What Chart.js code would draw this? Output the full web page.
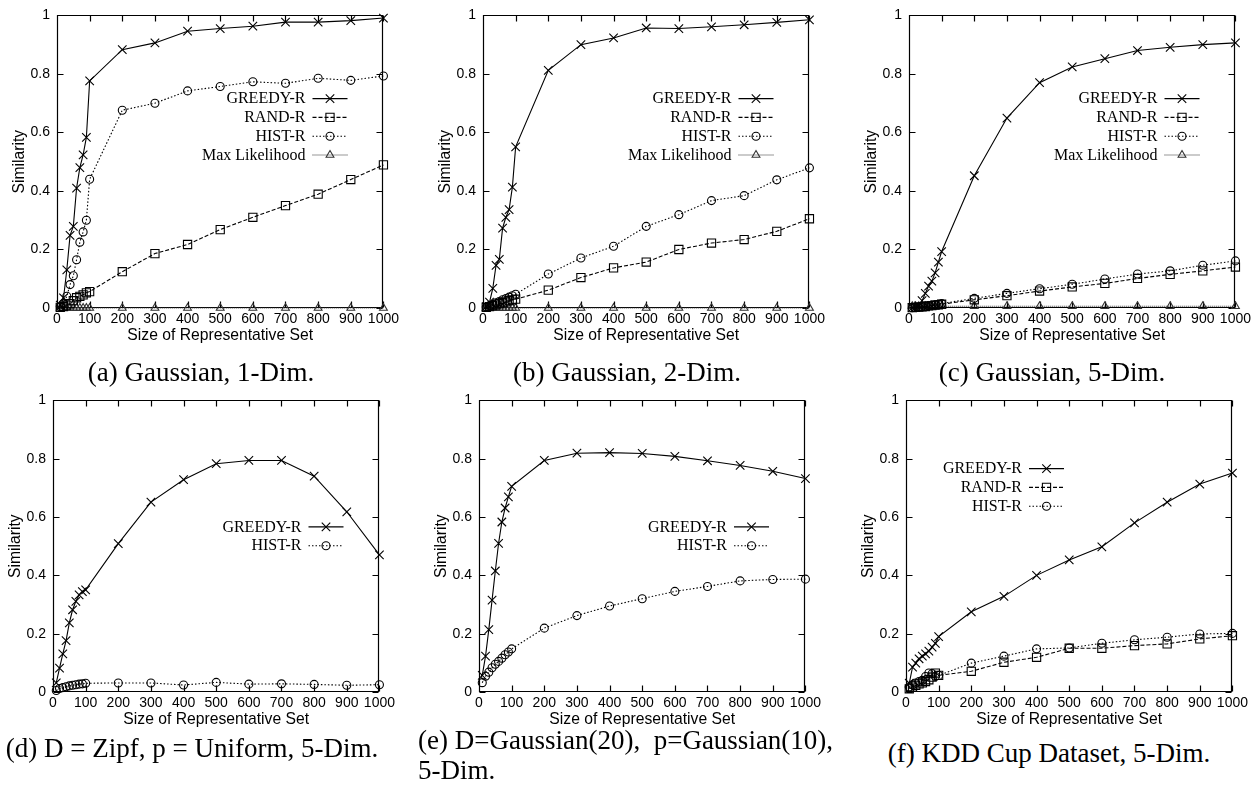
<!DOCTYPE html>
<html>
<head>
<meta charset="utf-8">
<script src="https://cdn.jsdelivr.net/npm/chart.js@4"></script>
<style>
  html, body { margin: 0; padding: 0; background: #fff; overflow: hidden; }
  body { width: 1255px; height: 787px; position: relative; }
  .box { position: absolute; }
  .cap { position: absolute; font-family: "Liberation Serif", serif; font-size: 27px; color: #000; white-space: nowrap; line-height: 30px; }
</style>
</head>
<body>
<div class="box" id="wa"><canvas id="ca" width="398" height="350"></canvas></div>
<div class="box" id="wb"><canvas id="cb" width="398" height="350"></canvas></div>
<div class="box" id="wc"><canvas id="cc" width="398" height="350"></canvas></div>
<div class="box" id="wd"><canvas id="cd" width="398" height="350"></canvas></div>
<div class="box" id="we"><canvas id="ce" width="398" height="350"></canvas></div>
<div class="box" id="wf"><canvas id="cf" width="398" height="350"></canvas></div>

<div class="cap" style="left:201px; top:357px; transform:translateX(-50%);">(a) Gaussian, 1-Dim.</div>
<div class="cap" style="left:627px; top:357px; transform:translateX(-50%);">(b) Gaussian, 2-Dim.</div>
<div class="cap" style="left:1052px; top:357px; transform:translateX(-50%);">(c) Gaussian, 5-Dim.</div>
<div class="cap" style="left:192px; top:733px; transform:translateX(-50%);">(d) D = Zipf, p = Uniform, 5-Dim.</div>
<div class="cap" style="left:418px; top:725px;">(e) D=Gaussian(20),&nbsp; p=Gaussian(10),<br>5-Dim.</div>
<div class="cap" style="left:1049px; top:738px; transform:translateX(-50%);">(f) KDD Cup Dataset, 5-Dim.</div>

<script>
// x positions (size of representative set)
const sizes = [10, 20, 30, 40, 50, 60, 70, 80, 90, 100, 200, 300, 400, 500, 600, 700, 800, 900, 1000];
const xTicks = [0, 100, 200, 300, 400, 500, 600, 700, 800, 900, 1000];
const yTicks = [0, 0.2, 0.4, 0.6, 0.8, 1];

// (a) Gaussian, 1-Dim.
const greedyA = [0.01, 0.035, 0.13, 0.248, 0.279, 0.41, 0.48, 0.523, 0.583, 0.776, 0.883, 0.906, 0.946, 0.955, 0.963, 0.977, 0.977, 0.982, 0.991];
const randA   = [0.002, 0.005, 0.01, 0.015, 0.025, 0.035, 0.04, 0.045, 0.052, 0.056, 0.124, 0.186, 0.217, 0.268, 0.31, 0.35, 0.389, 0.439, 0.489];
const histA   = [0.005, 0.015, 0.04, 0.08, 0.11, 0.165, 0.225, 0.26, 0.30, 0.44, 0.676, 0.70, 0.742, 0.757, 0.773, 0.768, 0.785, 0.778, 0.793];
const mlA     = [0, 0, 0, 0, 0, 0, 0, 0, 0, 0, 0, 0, 0, 0, 0, 0, 0, 0, 0];

// (b) Gaussian, 2-Dim.
const greedyB = [0.005, 0.02, 0.067, 0.146, 0.166, 0.273, 0.31, 0.336, 0.413, 0.551, 0.812, 0.90, 0.923, 0.957, 0.955, 0.961, 0.968, 0.976, 0.985];
const randB   = [0.002, 0.005, 0.008, 0.011, 0.015, 0.018, 0.021, 0.025, 0.028, 0.03, 0.061, 0.104, 0.137, 0.157, 0.2, 0.222, 0.234, 0.262, 0.305];
const histB   = [0.003, 0.008, 0.012, 0.018, 0.022, 0.028, 0.032, 0.037, 0.042, 0.047, 0.116, 0.171, 0.211, 0.279, 0.319, 0.367, 0.384, 0.438, 0.479];
const mlB     = [0, 0, 0, 0, 0, 0, 0, 0, 0, 0, 0, 0, 0, 0, 0, 0, 0, 0, 0];

// (c) Gaussian, 5-Dim.
const greedyC = [0.001, 0.002, 0.007, 0.025, 0.05, 0.075, 0.092, 0.12, 0.157, 0.193, 0.452, 0.649, 0.77, 0.824, 0.852, 0.88, 0.891, 0.90, 0.906];
const randC   = [0.001, 0.002, 0.003, 0.004, 0.005, 0.007, 0.008, 0.01, 0.011, 0.013, 0.028, 0.042, 0.058, 0.072, 0.084, 0.101, 0.115, 0.127, 0.14];
const histC   = [0.001, 0.002, 0.003, 0.005, 0.006, 0.008, 0.01, 0.011, 0.013, 0.015, 0.033, 0.05, 0.066, 0.081, 0.099, 0.116, 0.127, 0.146, 0.161];
const mlC     = [0.006, 0.006, 0.006, 0.006, 0.006, 0.006, 0.006, 0.006, 0.006, 0.006, 0.006, 0.006, 0.006, 0.006, 0.006, 0.006, 0.006, 0.006, 0.006];

// (d) D = Zipf, p = Uniform, 5-Dim.
const greedyD = [0.031, 0.082, 0.131, 0.176, 0.237, 0.282, 0.311, 0.333, 0.344, 0.35, 0.509, 0.651, 0.728, 0.783, 0.794, 0.794, 0.74, 0.618, 0.47];
const histD   = [0.005, 0.012, 0.015, 0.018, 0.021, 0.023, 0.025, 0.027, 0.028, 0.03, 0.031, 0.031, 0.024, 0.033, 0.027, 0.028, 0.026, 0.023, 0.025];

// (e) D=Gaussian(20), p=Gaussian(10), 5-Dim.
const greedyE = [0.057, 0.123, 0.214, 0.315, 0.415, 0.51, 0.583, 0.631, 0.669, 0.705, 0.794, 0.819, 0.821, 0.818, 0.808, 0.793, 0.777, 0.757, 0.732];
const histE   = [0.032, 0.054, 0.068, 0.083, 0.095, 0.105, 0.116, 0.128, 0.137, 0.148, 0.219, 0.262, 0.295, 0.32, 0.345, 0.362, 0.381, 0.386, 0.387];

// (f) KDD Cup Dataset, 5-Dim.
const greedyF = [0.03, 0.085, 0.099, 0.114, 0.123, 0.131, 0.14, 0.154, 0.167, 0.19, 0.275, 0.328, 0.40, 0.453, 0.498, 0.58, 0.651, 0.713, 0.751];
const randF   = [0.011, 0.017, 0.023, 0.028, 0.031, 0.036, 0.042, 0.051, 0.065, 0.057, 0.071, 0.102, 0.119, 0.15, 0.15, 0.159, 0.165, 0.182, 0.193];
const histF   = [0.017, 0.025, 0.031, 0.036, 0.04, 0.053, 0.065, 0.063, 0.053, 0.057, 0.099, 0.123, 0.148, 0.151, 0.167, 0.179, 0.188, 0.199, 0.201];

Chart.defaults.font.family = '"Liberation Sans", Arial, sans-serif';
Chart.defaults.color = '#000';

// line / marker look, gnuplot style
const styles = {
  'GREEDY-R':       { borderColor: '#000', borderDash: [], pointStyle: 'crossRot', pointRadius: 6 },
  'RAND-R':         { borderColor: '#000', borderDash: [4, 2], pointStyle: 'rect', pointRadius: 5.8 },
  'HIST-R':         { borderColor: '#000', borderDash: [1.5, 2], pointStyle: 'circle', pointRadius: 4 },
  'Max Likelihood': { borderColor: '#333', borderDash: [1, 1], pointStyle: 'triangle', pointRadius: 4.5 }
};

const series = (label, vals) => Object.assign({
  label: label,
  data: sizes.map((s, i) => ({ x: s, y: vals[i] })),
  borderWidth: 1.1,
  pointBorderWidth: 1.1,
  pointBorderColor: styles[label].borderColor,
  pointBackgroundColor: 'rgba(0,0,0,0)',
  pointHoverRadius: 5,
  tension: 0,
  fill: false,
  clip: false
}, styles[label]);

// box + inward ticks on all four sides
const frame = {
  id: 'frame',
  beforeDatasetsDraw(chart) {
    const { ctx, chartArea: a, scales } = chart;
    const L = Math.round(a.left) + 0.5, R = Math.round(a.right) - 0.5;
    const T = Math.round(a.top) + 0.5, B = Math.round(a.bottom) - 0.5;
    ctx.save();
    ctx.strokeStyle = '#000';
    ctx.lineWidth = 1.2;
    ctx.beginPath();
    ctx.rect(L, T, R - L, B - T);
    xTicks.forEach(v => {
      const px = Math.round(scales.x.getPixelForValue(v)) + 0.5;
      ctx.moveTo(px, B); ctx.lineTo(px, B - 6);
      ctx.moveTo(px, T); ctx.lineTo(px, T + 6);
    });
    yTicks.forEach(v => {
      const py = Math.round(scales.y.getPixelForValue(v)) + 0.5;
      ctx.moveTo(L, py); ctx.lineTo(L + 6, py);
      ctx.moveTo(R, py); ctx.lineTo(R - 6, py);
    });
    ctx.stroke();
    ctx.restore();
  }
};

// key drawn inside the plot, text right-aligned, sample to the right
const insideLegend = {
  id: 'insideLegend',
  afterDatasetsDraw(chart, args, opts) {
    const { ctx, chartArea: a } = chart;
    const x0 = a.left + opts.textRight;
    let y = a.top + opts.firstRow;
    ctx.save();
    ctx.font = '16px "Liberation Serif", serif';
    ctx.textAlign = 'right';
    ctx.textBaseline = 'middle';
    chart.data.datasets.forEach(ds => {
      ctx.fillStyle = '#000';
      ctx.fillText(ds.label, x0, y + 1);
      ctx.strokeStyle = ds.borderColor;
      ctx.lineWidth = 1.1;
      ctx.setLineDash(ds.borderDash);
      ctx.beginPath();
      ctx.moveTo(x0 + 7, y + 0.5);
      ctx.lineTo(x0 + 42, y + 0.5);
      ctx.stroke();
      ctx.setLineDash([]);
      ctx.fillStyle = 'rgba(0,0,0,0)';
      Chart.helpers.drawPoint(ctx, { pointStyle: ds.pointStyle, radius: ds.pointRadius, borderWidth: 1, rotation: 0 }, x0 + 24.5, y + 0.5);
      y += 18.8;
    });
    ctx.restore();
  }
};

const W = 398, H = 350, YW = 53, PT = 14;

const makeChart = (id, plot, datasets, key) => {
  const wrap = document.getElementById('w' + id);
  wrap.style.left = (plot.left - YW) + 'px';
  wrap.style.top = (plot.top - PT) + 'px';
  const plotW = plot.right - plot.left, plotH = plot.bottom - plot.top;
  const xh = H - PT - plotH;
  return new Chart(document.getElementById('c' + id), {
    type: 'line',
    data: { datasets: datasets },
    options: {
      responsive: false,
      devicePixelRatio: 1,
      animation: false,
      events: [],
      layout: { padding: { left: 0, top: PT, right: W - YW - plotW, bottom: 0 } },
      plugins: {
        legend: { display: false },
        tooltip: { enabled: false },
        insideLegend: key
      },
      scales: {
        x: {
          type: 'linear',
          min: 0, max: 1000,
          afterBuildTicks: s => { s.ticks = xTicks.map(v => ({ value: v })); },
          afterFit: s => { s.height = xh; },
          grid: { display: false, drawTicks: false },
          border: { display: false },
          ticks: { autoSkip: false, maxRotation: 0, padding: 3, font: { size: 14 }, callback: v => String(v) },
          title: { display: true, text: 'Size of Representative Set', font: { size: 15.7 },
                   padding: { top: 0, bottom: xh - 28 - 9.4 } }
        },
        y: {
          type: 'linear',
          min: 0, max: 1,
          afterBuildTicks: s => { s.ticks = yTicks.map(v => ({ value: v })); },
          afterFit: s => { s.width = YW; },
          grid: { display: false, drawTicks: false },
          border: { display: false },
          ticks: { padding: 7, font: { size: 14 }, callback: v => String(v) },
          title: { display: true, text: 'Similarity', font: { size: 15.7 }, padding: { top: 6, bottom: 0 } }
        }
      }
    },
    plugins: [frame, insideLegend]
  });
};

makeChart('a', { left: 57, top: 14, right: 386, bottom: 308 },
  [series('GREEDY-R', greedyA), series('RAND-R', randA), series('HIST-R', histA), series('Max Likelihood', mlA)],
  { textRight: 248.5, firstRow: 82.7 });
makeChart('b', { left: 483, top: 14, right: 812, bottom: 308 },
  [series('GREEDY-R', greedyB), series('RAND-R', randB), series('HIST-R', histB), series('Max Likelihood', mlB)],
  { textRight: 248.5, firstRow: 82.7 });
makeChart('c', { left: 909, top: 14, right: 1238, bottom: 308 },
  [series('GREEDY-R', greedyC), series('RAND-R', randC), series('HIST-R', histC), series('Max Likelihood', mlC)],
  { textRight: 248.5, firstRow: 82.7 });
makeChart('d', { left: 53, top: 399, right: 382, bottom: 692 },
  [series('GREEDY-R', greedyD), series('HIST-R', histD)],
  { textRight: 248.5, firstRow: 126 });
makeChart('e', { left: 479, top: 399, right: 808, bottom: 692 },
  [series('GREEDY-R', greedyE), series('HIST-R', histE)],
  { textRight: 248, firstRow: 126 });
makeChart('f', { left: 906, top: 399, right: 1234, bottom: 692 },
  [series('GREEDY-R', greedyF), series('RAND-R', randF), series('HIST-R', histF)],
  { textRight: 116, firstRow: 67.7 });
</script>
</body>
</html>
